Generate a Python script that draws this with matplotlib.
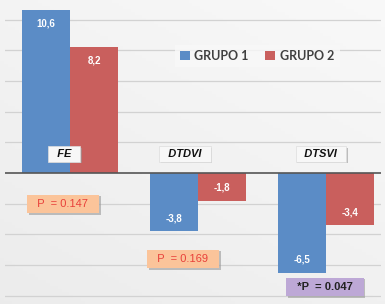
import numpy as np
import matplotlib
matplotlib.use("Agg")
import matplotlib.pyplot as plt
import matplotlib.patheffects as pe

categories = ["FE", "DTDVI", "DTSVI"]
grupo1 = [10.6, -3.8, -6.5]
grupo2 = [8.2, -1.8, -3.4]
series_names = ["GRUPO 1", "GRUPO 2"]
p_labels = ["P  = 0.147", "P  = 0.169", "*P  = 0.047"]

W, H = 385, 304
fig = plt.figure(figsize=(W / 100, H / 100), dpi=100)

# background gradient (white top right -> light gray bottom left)
bg = fig.add_axes([0, 0, 1, 1])
yy, xx = np.mgrid[0:1:100j, 0:1:100j]
level = 0.975 - 0.05 * (0.6 * yy + 0.4 * (1 - xx))
img = np.dstack([level, level, level])
bg.imshow(img, aspect="auto", origin="upper", extent=[0, 1, 0, 1])
bg.axis("off")

def px(x, y):
    return x / W, 1 - y / H

# axes placed in pixels: left 5, right 381, top 3, bottom 300
ax = fig.add_axes([5 / W, 4 / H, 376 / W, 297 / H])
ax.patch.set_alpha(0)
x = np.arange(len(categories))
w = 0.375
# px = 70 + 128*x, value = (173 - py) / 15.35
ax.set_xlim((5 - 70) / 128, (381 - 70) / 128)
ax.set_ylim((173 - 300) / 15.35, (173 - 3) / 15.35)

blue = "#5b8cc6"
red = "#c95f5d"
for v in range(-8, 12, 2):
    if v != 0:
        ax.axhline(v, color="#d2d2d2", lw=0.9, zorder=0)

b1 = ax.bar(x - w / 2, grupo1, w, color=blue, zorder=2, label=series_names[0])
b2 = ax.bar(x + w / 2, grupo2, w, color=red, zorder=2, label=series_names[1])
ax.axhline(0, color="#555555", lw=1.2, zorder=3)

for bars, vals in [(b1, grupo1), (b2, grupo2)]:
    ax.bar_label(bars, labels=[f"{v:.1f}".replace(".", ",") for v in vals],
                 padding=-13, color="white", fontsize=7, fontweight="bold",
                 family="Liberation Sans", zorder=4)

for s in ax.spines.values():
    s.set_visible(False)
ax.set_xticks([])
ax.set_yticks([])

shadow = [pe.withSimplePatchShadow(offset=(1.2, -1.2), shadow_rgbFace="#999999", alpha=0.6)]

# category labels
cat_pos = [(64, 154), (185, 154), (321, 154)]
for name, (cx, cy) in zip(categories, cat_pos):
    t = fig.text(*px(cx, cy), "  " + name + "  ", ha="center", va="center",
                 fontsize=8, fontweight="bold", style="italic",
                 family="Liberation Sans", color="#111111", zorder=5,
                 bbox=dict(boxstyle="square,pad=0.25", fc="#f7f7f7", ec="#dddddd", lw=0.5))
    t.get_bbox_patch().set_path_effects(shadow)

# p-value boxes
p_pos = [(63, 204), (183, 259), (325, 287)]
p_fc = ["#fbc49a", "#fbc49a", "#bda8d6"]
p_tc = ["#e8403a", "#e8403a", "#222222"]
for lab, (cx, cy), fc, tc in zip(p_labels, p_pos, p_fc, p_tc):
    t = fig.text(*px(cx, cy), "  " + lab + "  ", ha="center", va="center",
                 fontsize=8, family="Liberation Sans", color=tc, zorder=5,
                 fontweight="bold" if lab.startswith("*") else "normal",
                 bbox=dict(boxstyle="square,pad=0.4", fc=fc, ec="none"))
    t.get_bbox_patch().set_path_effects(shadow)

leg = ax.legend(loc="center", bbox_to_anchor=px(257, 56),
                bbox_transform=fig.transFigure, ncol=2, frameon=True,
                fancybox=False, edgecolor="none", facecolor="#f8f8f8",
                handlelength=0.8, handleheight=0.8, handletextpad=0.4,
                columnspacing=1.3, borderpad=0.4,
                prop=dict(family="Lato", weight="bold", size=9))
for t in leg.get_texts():
    t.set_color("#404040")

fig.savefig("out.png", dpi=100)
